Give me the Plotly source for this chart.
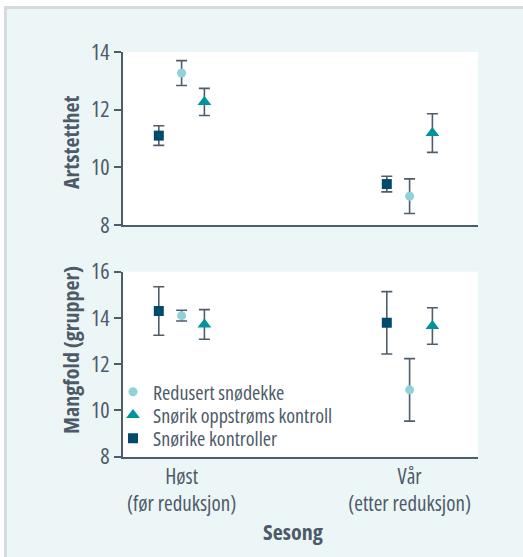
import plotly.graph_objects as go

W, H = 523, 557

# ---- data ----
seasons = ["Høst", "Vår"]
season_sub = ["(før reduksjon)", "(etter reduksjon)"]
season_x = [1, 2]
series_names = ["Redusert snødekke", "Snørik oppstrøms kontroll", "Snørike kontroller"]
series_offset = [0.0, 0.1, -0.1]
art_ticks = [8, 10, 12, 14]
mang_ticks = [8, 10, 12, 14, 16]

art_mean = {
    "Redusert snødekke": [13.27, 9.0],
    "Snørik oppstrøms kontroll": [12.27, 11.19],
    "Snørike kontroller": [11.1, 9.42],
}
art_err = {
    "Redusert snødekke": [0.43, 0.6],
    "Snørik oppstrøms kontroll": [0.47, 0.67],
    "Snørike kontroller": [0.34, 0.27],
}
mang_mean = {
    "Redusert snødekke": [14.1, 10.89],
    "Snørik oppstrøms kontroll": [13.72, 13.65],
    "Snørike kontroller": [14.3, 13.79],
}
mang_err = {
    "Redusert snødekke": [0.23, 1.35],
    "Snørik oppstrøms kontroll": [0.64, 0.79],
    "Snørike kontroller": [1.05, 1.35],
}

# ---- style ----
FONT = "Open Sans"
TXT = "#4d5b69"
AX = "#4f5d6b"
PANEL = "#edf6f7"
BORDER = "#d6dbdf"
styles = {
    "Redusert snødekke": dict(symbol="circle", size=9, color="#8fd2d9"),
    "Snørik oppstrøms kontroll": dict(symbol="triangle-up", size=12, color="#00939b"),
    "Snørike kontroller": dict(symbol="square", size=10, color="#004a6d"),
}
legend_ids = ["legend", "legend2", "legend3"]
legend_rows = [391.7, 415.0, 438.3]


def cond(t):
    return '<span style="font-stretch:condensed">%s</span>' % t


def px(x):
    return x / W


def py(y):
    return 1 - y / H


fig = go.Figure()

for name, off, lg in zip(series_names, series_offset, legend_ids):
    st = styles[name]
    xs = [v + off for v in season_x]
    for yaxis, means, errs, show in (("y", art_mean, art_err, False), ("y2", mang_mean, mang_err, True)):
        fig.add_trace(go.Scatter(
            x=xs, y=means[name], mode="markers", name=cond(name),
            xaxis="x" if yaxis == "y" else "x2", yaxis=yaxis,
            showlegend=show, legend=lg,
            marker=dict(symbol=st["symbol"], size=st["size"], color=st["color"], line=dict(width=0)),
            error_y=dict(type="data", array=errs[name], visible=True, color=AX, thickness=1.6, width=5.5),
        ))

xdom = [px(123), px(478)]
ytickfont = dict(family=FONT, size=22, color=TXT)
xtickfont = dict(family=FONT, size=21, color=TXT)
common_y = dict(showline=True, linecolor=AX, linewidth=2, ticks="outside", ticklen=7,
                tickcolor=AX, tickwidth=1.5, showgrid=False, zeroline=False,
                tickfont=ytickfont, automargin=False)
common_x = dict(domain=xdom, range=[0.743, 2.30], showline=True, linecolor=AX, linewidth=2,
                ticks="", showgrid=False, zeroline=False, automargin=False, tickfont=xtickfont)

legends = {}
for lg, row in zip(legend_ids, legend_rows):
    legends[lg] = dict(x=px(113), y=py(row), xanchor="left", yanchor="middle",
                       bgcolor="rgba(0,0,0,0)", font=dict(family=FONT, size=20, color=TXT),
                       itemwidth=30, borderwidth=0)

fig.update_layout(
    width=W, height=H,
    margin=dict(l=0, r=0, t=0, b=0, autoexpand=False),
    paper_bgcolor=PANEL, plot_bgcolor="white",
    font=dict(family=FONT, color=TXT),
    showlegend=True,
    xaxis=dict(anchor="y", showticklabels=False, **common_x),
    xaxis2=dict(anchor="y2", tickvals=season_x,
                ticktext=[cond(a + "<br>" + b) for a, b in zip(seasons, season_sub)], **common_x),
    yaxis=dict(domain=[py(225), py(52)], range=[8, 14], anchor="x",
               tickvals=art_ticks, ticktext=[cond(str(t)) for t in art_ticks], **common_y),
    yaxis2=dict(domain=[py(456.7), py(271.7)], range=[8, 16], anchor="x2",
                tickvals=mang_ticks, ticktext=[cond(str(t)) for t in mang_ticks], **common_y),
    **legends,
)

# axis titles
ttl = dict(family=FONT, size=22, color=TXT)
for text, x, y, ang in [("Artstetthet", 70, 143, -90), ("Mangfold (grupper)", 70, 350, -90),
                        ("Sesong", 293, 531, 0)]:
    fig.add_annotation(text="<b>" + cond(text) + "</b>", x=px(x), y=py(y), xref="paper", yref="paper",
                       xanchor="center", yanchor="middle", textangle=ang, showarrow=False, font=ttl)

# outer frame (white margin + grey border)
for x0, y0, x1, y1, c in [
    (0, 0, W, 6, "white"), (0, 0, 4, H, "white"),
    (4, 6, W, 9, BORDER), (4, 6, 7, H, BORDER),
]:
    fig.add_shape(type="rect", xref="paper", yref="paper", x0=px(x0), x1=px(x1), y0=py(y1), y1=py(y0),
                  fillcolor=c, line=dict(width=0), layer="above")

fig.write_html("out.html")
